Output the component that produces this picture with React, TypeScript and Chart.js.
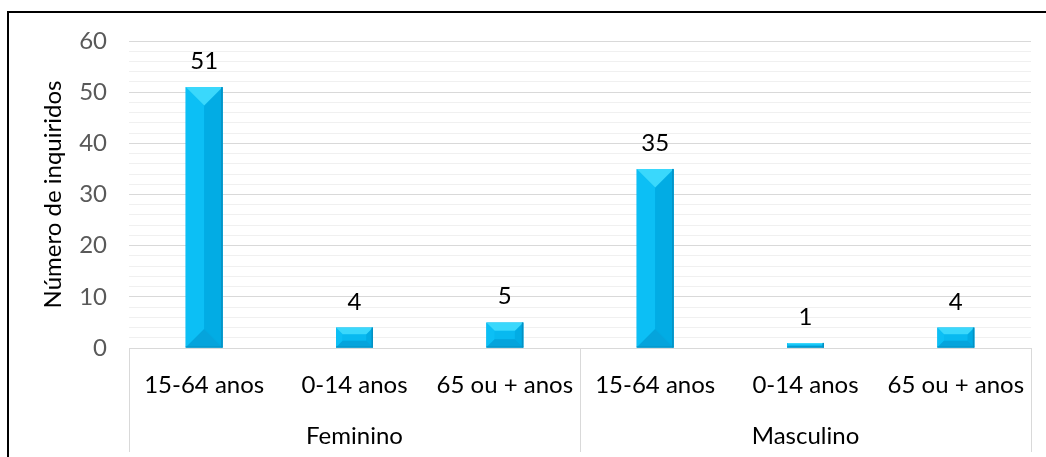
import { useEffect, useRef } from "react";
import { Chart, registerables } from "chart.js";

Chart.register(...registerables);

// Age bands (inner axis level), sex groups (outer axis level) and counts
const ageBands = ["15-64 anos", "0-14 anos", "65 ou + anos", "15-64 anos", "0-14 anos", "65 ou + anos"];
const sexGroups = ["Feminino", "Masculino"];
const bandsPerGroup = 3;
const respondents = [51, 4, 5, 35, 1, 4];

// Value axis
const yMax = 60;
const yMinorStep = 2;
const yMajorStep = 10;
const yTitle = "Número de inquiridos";

const FONT = "Lato, 'Open Sans', sans-serif";
const FONT_SIZE = 24;

// Beveled look for each bar, painted over the base fill using each bar element's geometry
const bevelPlugin = {
  id: "bevel",
  afterDatasetsDraw(chart: any) {
    const ctx = chart.ctx as CanvasRenderingContext2D;
    chart.getDatasetMeta(0).data.forEach((bar: any) => {
      const { x, y, base, width } = bar.getProps(["x", "y", "base", "width"], true);
      const x0 = x - width / 2;
      const x1 = x + width / 2;
      const y0 = Math.min(y, base);
      const y1 = Math.max(y, base);
      const h = y1 - y0;
      if (h <= 0) return;
      const d = Math.min(width / 2, h / 3);
      const poly = (pts: number[][], color: string) => {
        ctx.beginPath();
        ctx.moveTo(pts[0][0], pts[0][1]);
        for (let i = 1; i < pts.length; i++) ctx.lineTo(pts[i][0], pts[i][1]);
        ctx.closePath();
        ctx.fillStyle = color;
        ctx.fill();
      };
      ctx.save();
      // inner face
      poly([[x0 + d, y0 + d], [x1 - d, y0 + d], [x1 - d, y1 - d], [x0 + d, y1 - d]], "#08b9f0");
      // left face
      poly([[x0, y0], [x0 + d, y0 + d], [x0 + d, y1 - d], [x0, y1]], "#0cbff5");
      // right face
      poly([[x1, y0], [x1, y1], [x1 - d, y1 - d], [x1 - d, y0 + d]], "#02ace4");
      // bottom face
      poly([[x0, y1], [x1, y1], [x1 - d, y1 - d], [x0 + d, y1 - d]], "#05a4dc");
      // top face
      poly([[x0, y0], [x1, y0], [x1 - d, y0 + d], [x0 + d, y0 + d]], "#3ad8fc");
      // thin darker rim on the right and bottom edges
      ctx.fillStyle = "#0590c2";
      ctx.fillRect(x1 - 1.5, y0, 1.5, h);
      ctx.fillRect(x0, y1 - 1, width, 1);
      ctx.restore();
    });
  },
};

// Value printed above each bar
const valueLabelPlugin = {
  id: "valueLabels",
  afterDatasetsDraw(chart: any) {
    const ctx = chart.ctx as CanvasRenderingContext2D;
    const values = chart.data.datasets[0].data as number[];
    ctx.save();
    ctx.font = `${FONT_SIZE}px ${FONT}`;
    ctx.fillStyle = "#000000";
    ctx.textAlign = "center";
    ctx.textBaseline = "alphabetic";
    chart.getDatasetMeta(0).data.forEach((bar: any, i: number) => {
      const { x, y } = bar.getProps(["x", "y"], true);
      ctx.fillText(String(values[i]), x, y - 18);
    });
    ctx.restore();
  },
};

// Outer category level: separators and group names below the age bands
const groupAxisPlugin = {
  id: "groupAxis",
  afterDraw(chart: any) {
    const ctx = chart.ctx as CanvasRenderingContext2D;
    const xs = chart.scales.x;
    const top = chart.chartArea.bottom;
    const bottom = top + 104;
    const step = (xs.right - xs.left) / ageBands.length;
    ctx.save();
    ctx.strokeStyle = "#d9d9d9";
    ctx.lineWidth = 1;
    for (let g = 0; g <= sexGroups.length; g++) {
      const bx = Math.round(xs.left + g * bandsPerGroup * step) + 0.5;
      ctx.beginPath();
      ctx.moveTo(bx, top);
      ctx.lineTo(bx, bottom);
      ctx.stroke();
    }
    ctx.font = `${FONT_SIZE}px ${FONT}`;
    ctx.fillStyle = "#000000";
    ctx.textAlign = "center";
    ctx.textBaseline = "alphabetic";
    sexGroups.forEach((name, g) => {
      const cx = xs.left + (g + 0.5) * bandsPerGroup * step;
      ctx.fillText(name, cx, top + 96);
    });
    ctx.restore();
  },
};

export default function App() {
  const canvasRef = useRef<HTMLCanvasElement | null>(null);

  useEffect(() => {
    if (!canvasRef.current) return;
    const chart = new Chart(canvasRef.current, {
      type: "bar",
      data: {
        labels: ageBands,
        datasets: [
          {
            data: respondents,
            backgroundColor: "#00b4ee",
            borderWidth: 0,
            barPercentage: 0.246,
            categoryPercentage: 1,
          },
        ],
      },
      options: {
        responsive: false,
        animation: false,
        devicePixelRatio: 1,
        layout: { padding: { left: 0, right: 15, top: 41, bottom: 0 } },
        plugins: {
          legend: { display: false },
          tooltip: { enabled: false },
        },
        scales: {
          x: {
            grid: { display: false },
            border: { display: true, color: "#d9d9d9", width: 1 },
            ticks: {
              color: "#000000",
              font: { family: FONT, size: FONT_SIZE },
              padding: 15,
              maxRotation: 0,
              autoSkip: false,
            },
            afterFit: (scale: any) => {
              scale.height = 109;
            },
          },
          y: {
            min: 0,
            max: yMax,
            border: { display: false },
            grid: {
              drawTicks: false,
              color: (c: any) => (c.tick && c.tick.value % yMajorStep === 0 ? "#d9d9d9" : "#f0f0f0"),
              lineWidth: 1,
            },
            ticks: {
              stepSize: yMinorStep,
              autoSkip: false,
              color: "#595959",
              padding: 22,
              font: { family: FONT, size: FONT_SIZE },
              callback: (v: any) => (Number(v) % yMajorStep === 0 ? String(v) : ""),
            },
            title: {
              display: true,
              text: yTitle,
              color: "#000000",
              font: { family: FONT, size: FONT_SIZE },
              padding: { top: 39, bottom: 0 },
            },
            afterFit: (scale: any) => {
              scale.width = 129;
            },
          },
        },
      },
      plugins: [bevelPlugin, valueLabelPlugin, groupAxisPlugin],
    });
    return () => chart.destroy();
  }, []);

  return (
    <div
      style={{
        position: "absolute",
        left: 0,
        top: 0,
        width: 1046,
        height: 457,
        overflow: "hidden",
        background: "#ffffff",
      }}
    >
      <canvas ref={canvasRef} width={1046} height={457} style={{ position: "absolute", left: 0, top: 0 }} />
      <div
        style={{
          position: "absolute",
          left: 7,
          top: 11,
          width: 1200,
          height: 600,
          border: "2px solid #000000",
          pointerEvents: "none",
        }}
      />
    </div>
  );
}
